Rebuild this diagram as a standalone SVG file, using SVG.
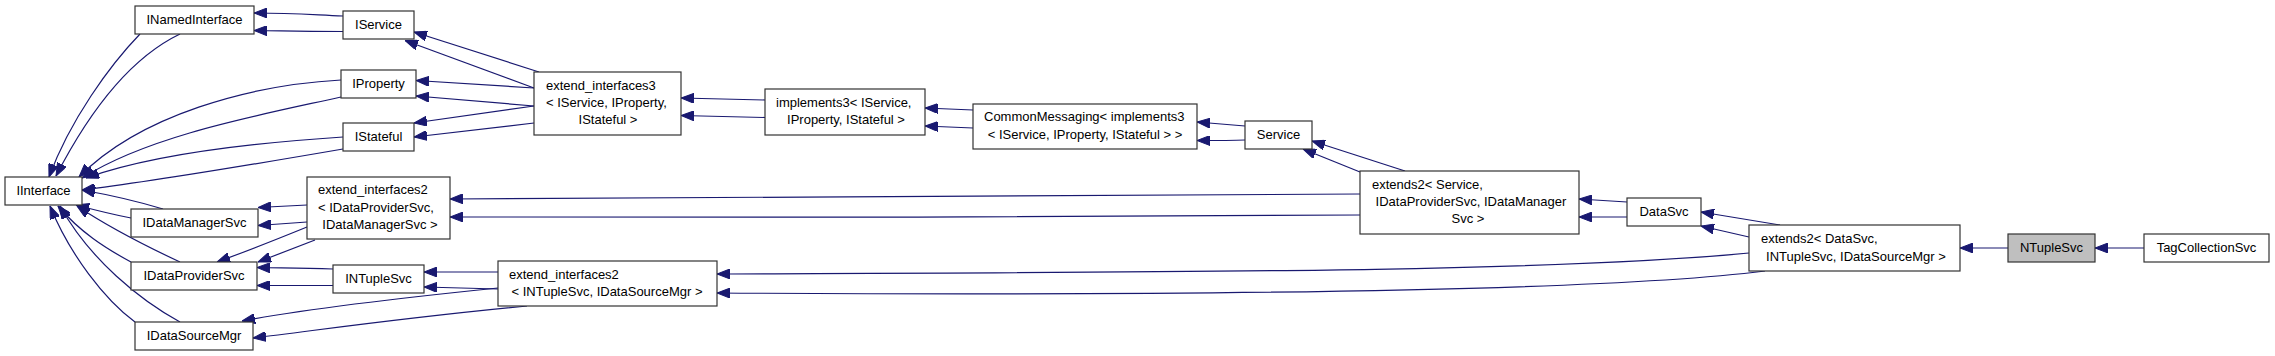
<svg xmlns="http://www.w3.org/2000/svg" width="2275" height="356" viewBox="0 0 2275 356">
<style>
.n rect{fill:#fff;stroke:#333;stroke-width:1.2}
.n text{font-family:"Liberation Sans",Arial,sans-serif;font-size:13px;fill:#000}
.c{text-anchor:middle}
#edges path{fill:none;stroke:#191970;stroke-width:1.2;marker-end:url(#ah)}
</style>
<defs>
<marker id="ah" viewBox="0 0 13 10" refX="13" refY="5" markerWidth="13" markerHeight="10" markerUnits="userSpaceOnUse" orient="auto">
<path d="M0,0 L13,5 L0,10 z" fill="#191970" stroke="#191970" stroke-width="1"/>
</marker>
</defs>
<rect width="2275" height="356" fill="#fff"/>
<g id="edges">
<path d="M343,16 C300,14 290,13 254,13"/>
<path d="M343,31.5 C300,31.5 290,31 254,30.5"/>
<path d="M539,72 L414,32"/>
<path d="M534,88 L405,40.5"/>
<path d="M534,88 L416,80.5"/>
<path d="M534,106 L416,96"/>
<path d="M534,106 L414,123"/>
<path d="M534,123 L414,137"/>
<path d="M140,34 C110,65 70,120 49,177"/>
<path d="M180,34 C130,58 90,110 56,176"/>
<path d="M341,80 C250,85 140,115 79,177"/>
<path d="M341,97 C260,115 150,135 82,178"/>
<path d="M343,137 C250,143 150,155 86,178"/>
<path d="M343,149 C250,165 150,182 82,190"/>
<path d="M163,209 C140,202 110,195 82,190"/>
<path d="M131,218 C110,214 95,210 76,205"/>
<path d="M180,262 C150,248 110,228 77,206"/>
<path d="M131,262 C105,248 80,232 58,206"/>
<path d="M135,322 C105,300 70,255 50,206"/>
<path d="M180,322 C140,300 90,260 60,206"/>
<path d="M307,205 L258,207.5"/>
<path d="M307,222 L258,225.5"/>
<path d="M307,227 C280,238 250,250 217,262"/>
<path d="M315,240 L258,262"/>
<path d="M333,269 C300,268 280,268 257,267.5"/>
<path d="M333,285.5 L257,285.5"/>
<path d="M498,272 L424,272"/>
<path d="M498,289 L424,287"/>
<path d="M498,288 C400,298 300,310 242,321"/>
<path d="M527,306 C400,318 320,330 253,338"/>
<path d="M765,100 L681,98"/>
<path d="M765,117.5 L681,115.5"/>
<path d="M973,110 L925,108"/>
<path d="M973,128 L925,126"/>
<path d="M1245,126 L1197,122"/>
<path d="M1245,140 C1230,140.5 1215,140.5 1197,140.5"/>
<path d="M1405,171 L1312,141"/>
<path d="M1360,172 L1303,149"/>
<path d="M1360,194 C1000,194 700,195 450,199"/>
<path d="M1360,215 C1100,218 700,217 450,217"/>
<path d="M1627,202 L1579,199"/>
<path d="M1627,217 L1579,217"/>
<path d="M1780,225 L1701,212"/>
<path d="M1749,237 L1701,226"/>
<path d="M1749,253 C1550,272 1200,272 717,274"/>
<path d="M1765,271 C1600,292 1200,296 717,293"/>
<path d="M2008,248 L1960,248"/>
<path d="M2144,248 L2095,248"/>
</g>
<g id="IInterface" class="n"><rect x="5" y="177" width="77" height="28"/><text class="c" x="43.5" y="195">IInterface</text></g>
<g id="INamedInterface" class="n"><rect x="135" y="6" width="119" height="28"/><text class="c" x="194.5" y="24">INamedInterface</text></g>
<g id="IService" class="n"><rect x="343" y="11" width="71" height="28"/><text class="c" x="378.5" y="29">IService</text></g>
<g id="IProperty" class="n"><rect x="341" y="70" width="75" height="28"/><text class="c" x="378.5" y="88">IProperty</text></g>
<g id="IStateful" class="n"><rect x="343" y="123" width="71" height="28"/><text class="c" x="378.5" y="141">IStateful</text></g>
<g id="IDataManagerSvc" class="n"><rect x="131" y="209" width="127" height="28"/><text class="c" x="194.5" y="227">IDataManagerSvc</text></g>
<g id="IDataProviderSvc" class="n"><rect x="131" y="262" width="126" height="28"/><text class="c" x="194" y="280">IDataProviderSvc</text></g>
<g id="IDataSourceMgr" class="n"><rect x="135" y="322" width="118" height="28"/><text class="c" x="194" y="340">IDataSourceMgr</text></g>
<g id="INTupleSvc" class="n"><rect x="333" y="265" width="91" height="28"/><text class="c" x="378.5" y="283">INTupleSvc</text></g>
<g id="extend_interfaces2_DP_DM" class="n"><rect x="307" y="177" width="143" height="62"/><text x="318" y="194">extend_interfaces2</text><text x="318" y="212">&lt; IDataProviderSvc,</text><text class="c" x="380" y="229">IDataManagerSvc &gt;</text></g>
<g id="extend_interfaces2_NT_DS" class="n"><rect x="498" y="261" width="219" height="45"/><text x="509" y="279">extend_interfaces2</text><text class="c" x="607" y="296">&lt; INTupleSvc, IDataSourceMgr &gt;</text></g>
<g id="extend_interfaces3" class="n"><rect x="534" y="72" width="147" height="63"/><text x="546" y="90">extend_interfaces3</text><text x="546" y="107">&lt; IService, IProperty,</text><text class="c" x="608" y="124">IStateful &gt;</text></g>
<g id="implements3" class="n"><rect x="765" y="89" width="160" height="46"/><text x="776" y="107">implements3&lt; IService,</text><text class="c" x="846" y="124">IProperty, IStateful &gt;</text></g>
<g id="CommonMessaging" class="n"><rect x="973" y="104" width="224" height="45"/><text x="984" y="121">CommonMessaging&lt; implements3</text><text class="c" x="1085" y="139">&lt; IService, IProperty, IStateful &gt; &gt;</text></g>
<g id="Service" class="n"><rect x="1245" y="121" width="67" height="28"/><text class="c" x="1278.5" y="139">Service</text></g>
<g id="extends2_Service" class="n"><rect x="1360" y="171" width="219" height="63"/><text x="1372" y="188.5">extends2&lt; Service,</text><text class="c" x="1471" y="206">IDataProviderSvc, IDataManager</text><text class="c" x="1468" y="223">Svc &gt;</text></g>
<g id="DataSvc" class="n"><rect x="1627" y="198" width="74" height="28"/><text class="c" x="1664" y="216">DataSvc</text></g>
<g id="extends2_DataSvc" class="n"><rect x="1749" y="225" width="211" height="46"/><text x="1761" y="243">extends2&lt; DataSvc,</text><text class="c" x="1856" y="260.5">INTupleSvc, IDataSourceMgr &gt;</text></g>
<g id="NTupleSvc" class="n"><rect x="2008" y="234" width="87" height="28" style="fill:#bfbfbf"/><text class="c" x="2051.5" y="252">NTupleSvc</text></g>
<g id="TagCollectionSvc" class="n"><rect x="2144" y="234" width="125" height="28"/><text class="c" x="2206.5" y="252">TagCollectionSvc</text></g>
</svg>
